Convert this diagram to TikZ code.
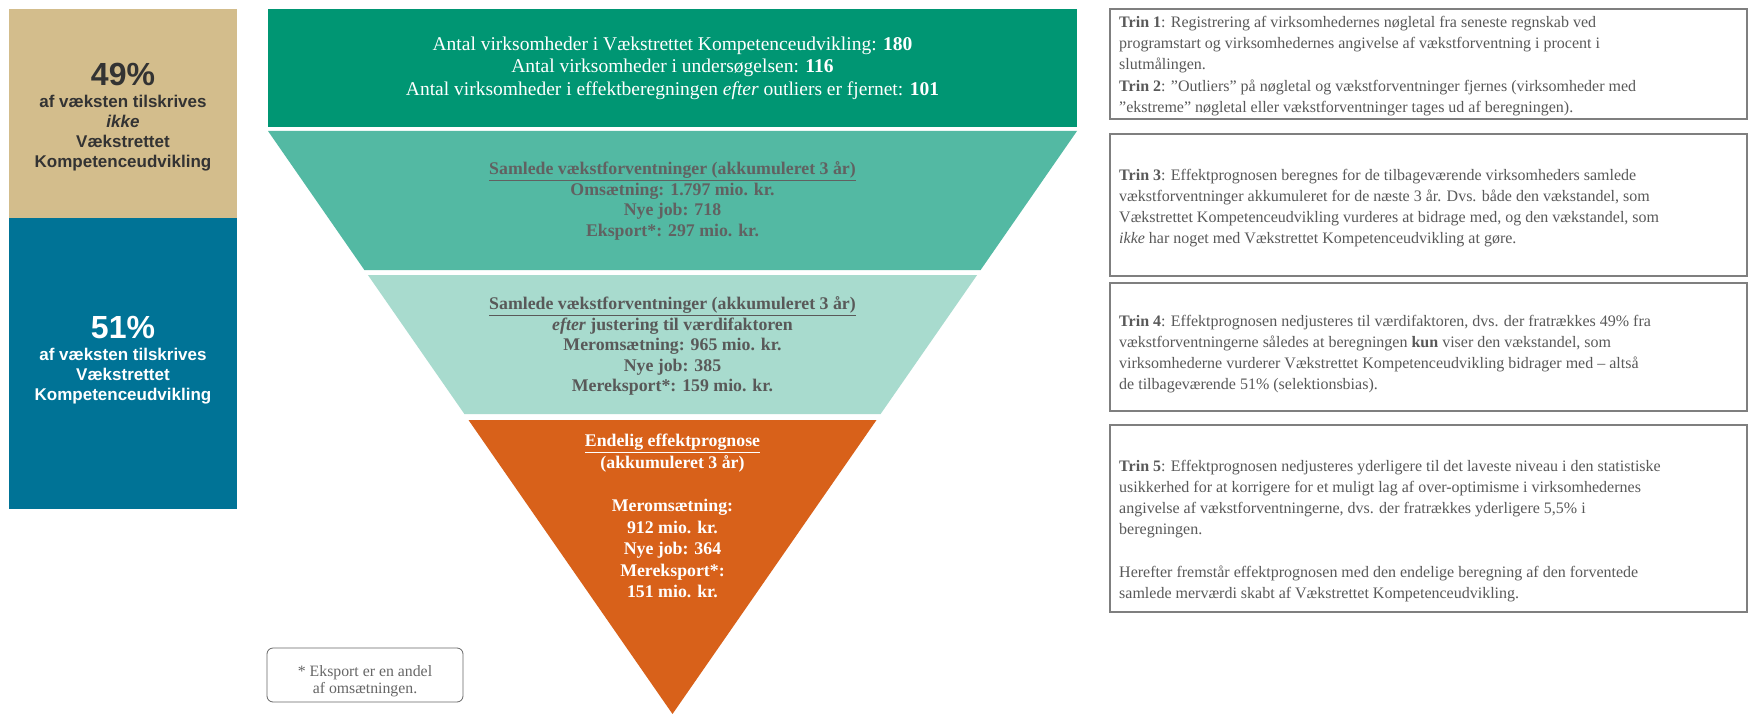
\documentclass[tikz,border=0pt]{standalone}
\usepackage{fontspec}
\setmainfont{Liberation Serif}
\newfontfamily\arialf{Liberation Sans}
\definecolor{tanc}{HTML}{D3BD8C}
\definecolor{bluec}{HTML}{007396}
\definecolor{greenc}{HTML}{009673}
\definecolor{tealc}{HTML}{53B9A3}
\definecolor{ltealc}{HTML}{A8DBCE}
\definecolor{orangec}{HTML}{D8611A}
\definecolor{txtgray}{HTML}{595959}
\definecolor{boxgray}{HTML}{7F7F7F}
\begin{document}
\begin{tikzpicture}[x=1pt,y=-1pt,
  panel/.style={font=\arialf\bfseries\fontsize{17}{20}\selectfont, align=center, inner sep=0pt},
  bandtxt/.style={font=\bfseries\fontsize{17.8}{20.5}\selectfont, align=center, inner sep=0pt},
  trinbox/.style={draw=boxgray, line width=2pt},
  trintxt/.style={font=\fontsize{16}{21.2}\selectfont, text=txtgray, align=left, inner sep=0pt, anchor=west}]
\useasboundingbox (0,0) rectangle (1750,714);
\fill[white] (0,0) rectangle (1750,714);
% left panels
\fill[tanc] (9,9) rectangle (237,218);
\fill[bluec] (9,218) rectangle (237,509);
\draw[white, dotted, line width=0.6pt] (9,509) -- (237,509) -- (237,218);
\node[panel, text=black!80] (p49) at (123,117) {{\fontsize{32}{36}\selectfont 49\%}\\[2pt]af væksten tilskrives\\\textit{ikke}\\Vækstrettet\\Kompetenceudvikling};
\node[panel, text=white] (p51) at (123,360) {{\fontsize{32}{36}\selectfont 51\%}\\[2pt]af væksten tilskrives\\Vækstrettet\\Kompetenceudvikling};
% funnel
\fill[greenc] (268,9) rectangle (1077,127);
\fill[tealc] (268,131) -- (1077,131) -- (980.6,270) -- (364.4,270) -- cycle;
\fill[ltealc] (367.9,275) -- (977.1,275) -- (880.6,414) -- (464.4,414) -- cycle;
\fill[orangec] (468.5,420) -- (876.5,420) -- (672.5,714) -- cycle;
\node[font=\fontsize{19.5}{22.5}\selectfont, text=white, align=center, inner sep=0pt] (g) at (672.5,68)
 {Antal virksomheder i Vækstrettet Kompetenceudvikling: \textbf{180}\\Antal virksomheder i undersøgelsen: \textbf{116}\\Antal virksomheder i effektberegningen \textit{efter} outliers er fjernet: \textbf{101}};
\node[bandtxt, text=black!62] (t1) at (672.5,201)
 {\underline{Samlede vækstforventninger (akkumuleret 3 år)}\\Omsætning: 1.797 mio. kr.\\Nye job: 718\\Eksport*: 297 mio. kr.};
\node[bandtxt, text=black!65] (t2) at (672.5,346)
 {\underline{Samlede vækstforventninger (akkumuleret 3 år)}\\\textit{efter} justering til værdifaktoren\\Meromsætning: 965 mio. kr.\\Nye job: 385\\Mereksport*: 159 mio. kr.};
\node[bandtxt, text=white, anchor=north, font=\bfseries\fontsize{17.8}{21.6}\selectfont] (t3) at (672.5,434)
 {\underline{Endelig effektprognose}\\(akkumuleret 3 år)\\[21.6pt]Meromsætning:\\912 mio. kr.\\Nye job: 364\\Mereksport*:\\151 mio. kr.};
% footnote
\node[draw=black!60, rounded corners=6pt, line width=0.8pt, minimum width=196pt, minimum height=54pt,
  inner sep=0pt] (fn) at (365,675) {};
\node[font=\fontsize{15.8}{17.5}\selectfont, text=black!60, align=center, inner sep=0pt] (fnt) at ([yshift=-6pt]fn.center)
 {* Eksport er en andel\\af omsætningen.};
% trin boxes
\draw[trinbox] (1110,9) rectangle (1747,119);
\draw[trinbox] (1110,134) rectangle (1747,276);
\draw[trinbox] (1110,283) rectangle (1747,411);
\draw[trinbox] (1110,425) rectangle (1747,612);
\node[trintxt] (s1) at (1119,66) {\textbf{Trin 1}: Registrering af virksomhedernes nøgletal fra seneste regnskab ved\\programstart og virksomhedernes angivelse af vækstforventning i procent i\\slutmålingen.\\\textbf{Trin 2}: ”Outliers” på nøgletal og vækstforventninger fjernes (virksomheder med\\”ekstreme” nøgletal eller vækstforventninger tages ud af beregningen).};
\node[trintxt] (s2) at (1119,208) {\textbf{Trin 3}: Effektprognosen beregnes for de tilbageværende virksomheders samlede\\vækstforventninger akkumuleret for de næste 3 år. Dvs. både den vækstandel, som\\Vækstrettet Kompetenceudvikling vurderes at bidrage med, og den vækstandel, som\\\textit{ikke} har noget med Vækstrettet Kompetenceudvikling at gøre.};
\node[trintxt] (s3) at (1119,354) {\textbf{Trin 4}: Effektprognosen nedjusteres til værdifaktoren, dvs. der fratrækkes 49\% fra\\vækstforventningerne således at beregningen \textbf{kun} viser den vækstandel, som\\virksomhederne vurderer Vækstrettet Kompetenceudvikling bidrager med – altså\\de tilbageværende 51\% (selektionsbias).};
\node[trintxt] (s4) at (1119,531) {\textbf{Trin 5}: Effektprognosen nedjusteres yderligere til det laveste niveau i den statistiske\\usikkerhed for at korrigere for et muligt lag af over-optimisme i virksomhedernes\\angivelse af vækstforventningerne, dvs. der fratrækkes yderligere 5,5\% i\\beregningen.\\[21.2pt]Herefter fremstår effektprognosen med den endelige beregning af den forventede\\samlede merværdi skabt af Vækstrettet Kompetenceudvikling.};
\end{tikzpicture}
\end{document}
